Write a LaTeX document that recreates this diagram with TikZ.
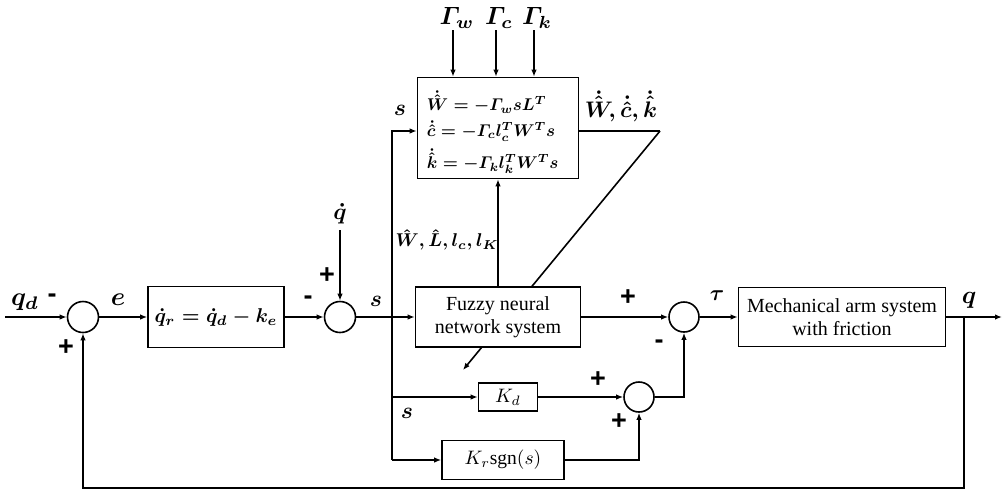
\RequirePackage{fix-cm}
\documentclass[tikz,border=0pt]{standalone}
\usepackage{amsmath}
\usepackage{fontspec}
\setmainfont{Liberation Serif}
\newfontfamily\signfont{Liberation Sans}
\usetikzlibrary{arrows.meta,backgrounds}
\newcommand\bml[2][2.3]{\scalebox{#1}{\boldmath$#2$}}
\newcommand\beq[2][1.7]{\scalebox{#1}{\boldmath$#2$}}
\newcommand\kml[1]{\scalebox{1.95}{$#1$}}
\begin{document}
\begin{tikzpicture}[x=1pt,y=-1pt,
  line width=1.6pt,
  arr/.style={-{Latex[length=7pt,width=5.5pt]}},
  wl/.style={line width=1.6pt},
  blk/.style={draw,line width=1.6pt,inner sep=0pt,fill=white},
  sumc/.style={draw,circle,line width=1.6pt,minimum size=31pt,inner sep=0pt},
  lab/.style={inner sep=0pt},
  sgn/.style={font=\fontsize{27}{28}\signfont\bfseries,inner sep=0pt},
  btxt/.style={font=\fontsize{20}{23}\selectfont,align=center}]
\useasboundingbox (0,0) rectangle (1008,491);
% summing junctions
\node[sumc] (c1) at (83,317) {};
\node[sumc] (c2) at (340,317) {};
\node[sumc,minimum size=30pt] (c3) at (684,317) {};
\node[sumc,minimum size=30pt] (c4) at (639,397) {};
% blocks
\node[blk,minimum width=136pt,minimum height=61pt] (b1) at (216,317) {\beq[2.0]{\dot{q}_r=\dot{q}_d-k_e}};
\node[blk,minimum width=161pt,minimum height=101pt] (upd) at (498,128) {};
\node[blk,btxt,minimum width=165pt,minimum height=60pt] (fnn) at (498,317) {Fuzzy neural\\network system};
\node[blk,btxt,minimum width=207pt,minimum height=59pt] (mech) at (842,317) {Mechanical arm system\\with friction};
\node[blk,minimum width=59pt,minimum height=28pt] (kd) at (508,397) {\kml{K_d}};
\node[blk,minimum width=122pt,minimum height=39pt] (kr) at (503,460) {\kml{K_r\mathrm{sgn}(s)}};
% equations in update box
\node[lab,anchor=west] (eq1) at (426,102) {\beq{\dot{\hat{W}}=-\varGamma_w s L^T}};
\node[lab,anchor=west] (eq2) at (426,131) {\beq{\dot{\hat{c}}=-\varGamma_c l_c^T W^T s}};
\node[lab,anchor=west] (eq3) at (426,161) {\beq{\dot{\hat{k}}=-\varGamma_k l_k^T W^T s}};
% coordinates
\coordinate (in) at (5,317);
\coordinate (out) at (1002,317);
\coordinate (brtop) at (392,131);
\coordinate (brkd) at (392,397);
\coordinate (brkr) at (392,460);
\coordinate (qdot) at (340,230);
\coordinate (fbr) at (964,317);
\coordinate (fbb) at (964,488);
\coordinate (fbl) at (83,488);
\coordinate (updout) at (660,131);
\coordinate (adj) at (463,370);
\coordinate (gw) at (453,30);
\coordinate (gc) at (496,30);
\coordinate (gk) at (534,30);
% connectors
\draw[arr] (in) -- (c1.west);
\draw[arr] (c1.east) -- (b1.west);
\draw[arr] (b1.east) -- (c2.west);
\draw[arr] (qdot) -- (c2.north);
\draw[arr] (c2.east) -- (fnn.west);
\draw[arr] (brkr) -- (brtop) -- (upd.west |- brtop);
\draw[arr] (brkd) -- (kd.west);
\draw[arr] (brkr) -- (kr.west);
\draw[arr] (fnn.north) -- (upd.south);
\draw[arr] (gw) -- (gw |- upd.north);
\draw[arr] (gc) -- (gc |- upd.north);
\draw[arr] (gk) -- (gk |- upd.north);
\begin{scope}[on background layer]
\draw[wl] (upd.east |- updout) -- (updout);
\draw[wl,arr] (updout) -- (adj);
\end{scope}
\draw[arr] (fnn.east) -- (c3.west);
\draw[arr] (c3.east) -- (mech.west);
\draw[arr] (mech.east) -- (out);
\draw[arr] (fbr) -- (fbb) -- (fbl) -- (c1.south);
\draw[arr] (kd.east) -- (c4.west);
\draw[arr] (kr.east) -| (c4.south);
\draw[arr] (c4.east) -| (c3.south);
% labels
\node[lab] (lqd) at (25,302) {\bml[2.6]{q_d}};
\node[sgn] (m1) at (52,298) {-};
\node[sgn] (p1) at (66,348) {+};
\node[lab] (le) at (118,300) {\bml[2.6]{e}};
\node[sgn] (m2) at (308,300) {-};
\node[sgn] (p2) at (327,276) {+};
\node[lab] (lqdot) at (340,214) {\bml{\dot{q}}};
\node[lab] (ls1) at (376,301) {\bml{s}};
\node[lab] (ls2) at (400,110) {\bml{s}};
\node[lab] (lparam) at (447,240) {\bml[1.85]{\hat{W},\hat{L},l_c,l_K}};
\node[lab] (lrates) at (621,106) {\bml[2.25]{\dot{\hat{W}},\dot{\hat{c}},\dot{\hat{k}}}};
\node[sgn] (p3) at (628,298) {+};
\node[sgn] (m3) at (659,344) {-};
\node[lab] (ltau) at (717,296) {\bml[2.2]{\tau}};
\node[lab] (lq) at (969,300) {\bml[2.5]{q}};
\node[sgn] (p4) at (598,380) {+};
\node[lab] (ls3) at (407,413) {\bml{s}};
\node[sgn] (p5) at (619,422) {+};
\node[lab] (lgw) at (457,18) {\bml[2.5]{\varGamma_w}};
\node[lab] (lgc) at (499,18) {\bml[2.5]{\varGamma_c}};
\node[lab] (lgk) at (537,18) {\bml[2.5]{\varGamma_k}};
\end{tikzpicture}
\end{document}
